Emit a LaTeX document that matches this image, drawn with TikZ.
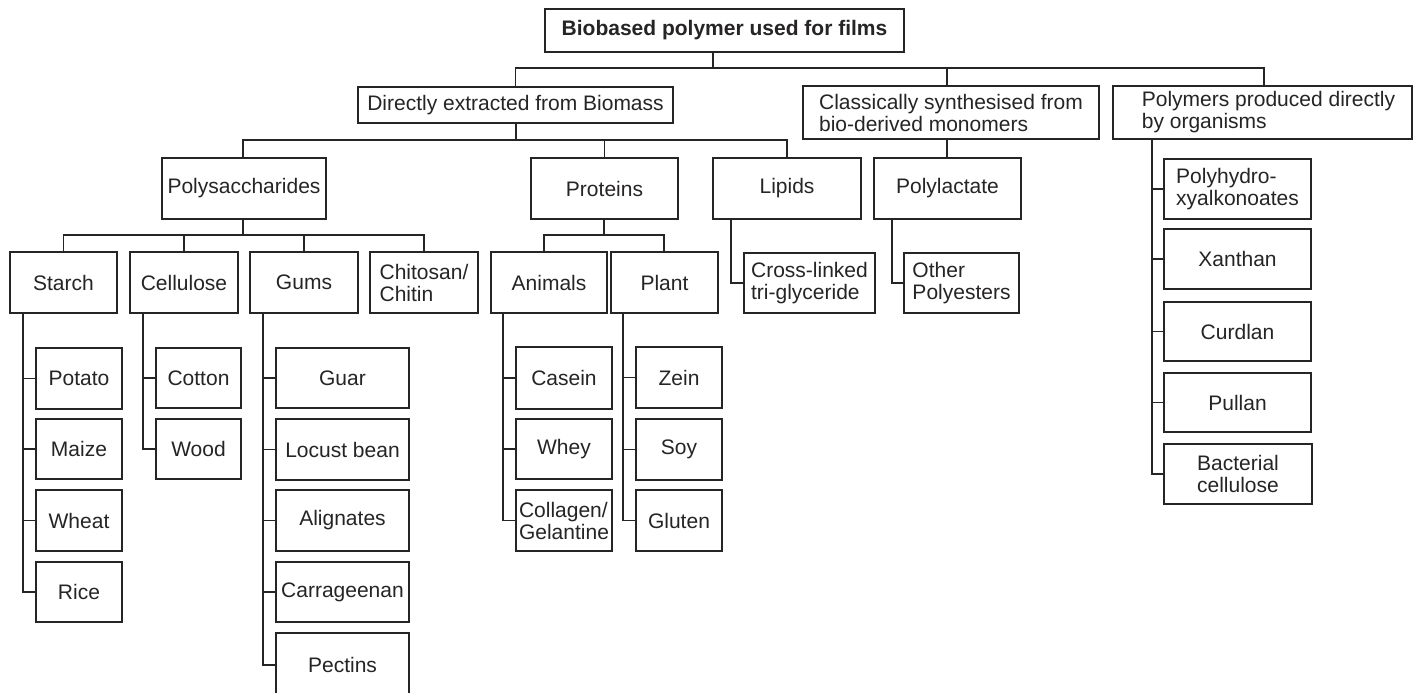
\documentclass[tikz,border=0pt]{standalone}
\usepackage{fontspec}
\setmainfont{Liberation Sans}
\definecolor{ink}{RGB}{38,36,37}
\newcommand{\bx}[7][]{%
  \node[box,#1,minimum width={(#5-#3)*0.5pt},minimum height={(#6-#4)*0.5pt}]
    (#2) at ({(#3+#5)/2},{(#4+#6)/2}) {#7};}
\begin{document}
\begin{tikzpicture}[x=0.5pt,y=-0.5pt,
  box/.style={draw=ink,text=ink,line width=0.6pt,inner sep=0pt,outer sep=0pt,
    align=left,font=\fontsize{10.5}{11}\selectfont},
  link/.style={draw=ink,line width=0.6pt}]
\useasboundingbox[fill=white] (0,0) rectangle (1413,692);
% level 0
\bx[font=\fontsize{10.5}{11}\selectfont\bfseries]{root}{545}{9}{904}{52}{Biobased polymer used for films}
% level 1
\bx{directly}{358}{87}{673}{123}{Directly extracted from Biomass}
\bx{classic}{803}{86}{1099}{139}{Classically synthesised from\\bio-derived monomers}
\bx{organisms}{1113}{86}{1412}{139}{\hspace*{6pt}Polymers produced directly\\\hspace*{6pt}by organisms}
% level 2
\bx{polysac}{162}{158}{326}{219}{Polysaccharides}
\bx{proteins}{531}{158}{678}{219}{Proteins}
\bx{lipids}{713}{158}{861}{219}{Lipids}
\bx{polylac}{874}{158}{1021}{219}{Polylactate}
% level 3
\bx{starch}{10}{252}{117}{313}{Starch}
\bx{cellulose}{130}{252}{238}{313}{Cellulose}
\bx{gums}{250}{252}{358}{313}{Gums}
\bx{chitosan}{370}{252}{478}{313}{Chitosan/\\Chitin}
\bx{animals}{491}{252}{607}{313}{Animals}
\bx{plant}{611}{252}{718}{313}{Plant}
\bx{crossl}{744}{253}{875}{313}{Cross-linked\\tri-glyceride}
\bx{otherpol}{904}{253}{1019}{313}{Other\\Polyesters}
% leaves
\bx{potato}{36}{348}{122}{409}{Potato}
\bx{maize}{36}{419}{122}{479}{Maize}
\bx{wheat}{36}{490}{122}{551}{Wheat}
\bx{rice}{36}{562}{122}{622}{Rice}
\bx{cotton}{156}{348}{241}{408}{Cotton}
\bx{wood}{156}{419}{241}{479}{Wood}
\bx{guar}{276}{348}{409}{408}{Guar}
\bx{locust}{276}{419}{409}{480}{Locust bean}
\bx{alignates}{276}{490}{409}{551}{Alignates}
\bx{carrag}{276}{562}{409}{622}{Carrageenan}
\bx{pectins}{276}{633}{409}{697}{Pectins}
\bx{casein}{516}{347}{612}{409}{Casein}
\bx{whey}{516}{419}{612}{479}{Whey}
\bx{collagen}{516}{490}{612}{551}{Collagen/\\Gelantine}
\bx{zein}{636}{347}{722}{408}{Zein}
\bx{soy}{636}{419}{722}{480}{Soy}
\bx{gluten}{636}{490}{722}{551}{Gluten}
\bx{phx}{1164}{159}{1311}{219}{Polyhydro-\\xyalkonoates}
\bx{xanthan}{1164}{229}{1311}{289}{Xanthan}
\bx{curdlan}{1164}{302}{1311}{361}{Curdlan}
\bx{pullan}{1164}{373}{1311}{432}{Pullan}
\bx{bactcell}{1164}{444}{1312}{504}{Bacterial\\cellulose}
% junction coordinates
\coordinate (j0) at (713,68);
\coordinate (j1) at (516,140);
\coordinate (j2) at (243,235);
\coordinate (j3) at (604,235);
\coordinate (kc) at (947,0);
\coordinate (ko) at (1264,0);
\coordinate (ka) at (544,0);
\coordinate (kp) at (664,0);
% top level
\draw[link] (root.south -| j0) -- (j0);
\draw[link] (directly.north) |- (j0) -| (organisms.north -| ko);
\draw[link] (j0 -| kc) -- (classic.north -| kc);
% directly extracted
\draw[link] (directly.south -| j1) -- (j1);
\draw[link] (polysac.north -| j2) |- (j1) -| (lipids.north);
\draw[link] (j1 -| proteins.north) -- (proteins.north);
% classically
\draw[link] (classic.south -| kc) -- (polylac.north -| kc);
% polysaccharides
\draw[link] (polysac.south -| j2) -- (j2);
\draw[link] (starch.north) |- (j2) -| (chitosan.north);
\draw[link] (j2 -| cellulose.north) -- (cellulose.north);
\draw[link] (j2 -| gums.north) -- (gums.north);
% proteins
\draw[link] (proteins.south -| j3) -- (j3);
\draw[link] (animals.north -| ka) |- (j3) -| (plant.north -| kp);
% side branches
\coordinate (sS) at (23,0);
\draw[link] (starch.south -| sS) |- (rice.west);
\foreach \c in {potato,maize,wheat} \draw[link] (\c.west -| sS) -- (\c.west);
\coordinate (sC) at (143,0);
\draw[link] (cellulose.south -| sC) |- (wood.west);
\draw[link] (cotton.west -| sC) -- (cotton.west);
\coordinate (sG) at (263,0);
\draw[link] (gums.south -| sG) |- (pectins.west);
\foreach \c in {guar,locust,alignates,carrag} \draw[link] (\c.west -| sG) -- (\c.west);
\coordinate (sA) at (503,0);
\draw[link] (animals.south -| sA) |- (collagen.west);
\foreach \c in {casein,whey} \draw[link] (\c.west -| sA) -- (\c.west);
\coordinate (sP) at (623,0);
\draw[link] (plant.south -| sP) |- (gluten.west);
\foreach \c in {zein,soy} \draw[link] (\c.west -| sP) -- (\c.west);
\coordinate (sL) at (731,0);
\draw[link] (lipids.south -| sL) |- (crossl.west);
\coordinate (sY) at (892,0);
\draw[link] (polylac.south -| sY) |- (otherpol.west);
\coordinate (sO) at (1152,0);
\draw[link] (organisms.south -| sO) |- (bactcell.west);
\foreach \c in {phx,xanthan,curdlan,pullan} \draw[link] (\c.west -| sO) -- (\c.west);
\end{tikzpicture}
\end{document}
